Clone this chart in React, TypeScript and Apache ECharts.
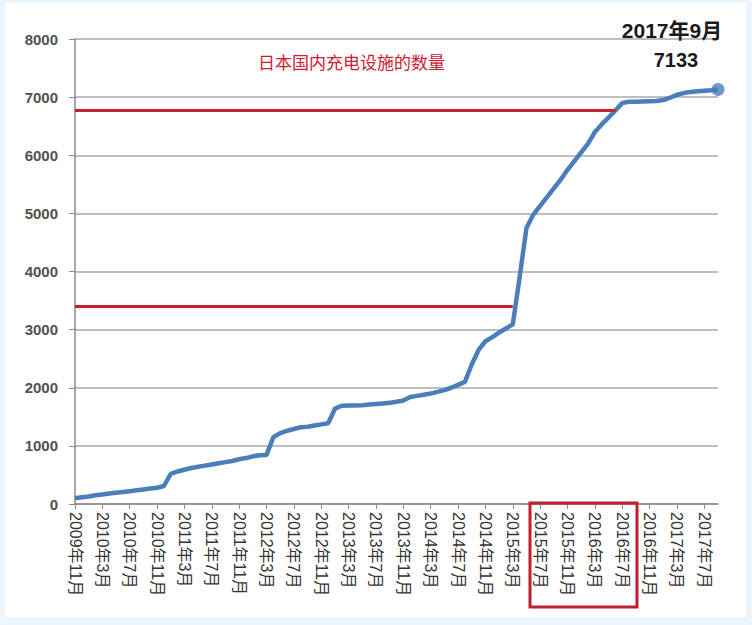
import React, { useEffect, useRef } from "react";
import * as echarts from "echarts";

const months: string[] = [
  "2009年11月", "2009年12月",
  "2010年1月", "2010年2月", "2010年3月", "2010年4月", "2010年5月", "2010年6月", "2010年7月", "2010年8月", "2010年9月", "2010年10月", "2010年11月", "2010年12月",
  "2011年1月", "2011年2月", "2011年3月", "2011年4月", "2011年5月", "2011年6月", "2011年7月", "2011年8月", "2011年9月", "2011年10月", "2011年11月", "2011年12月",
  "2012年1月", "2012年2月", "2012年3月", "2012年4月", "2012年5月", "2012年6月", "2012年7月", "2012年8月", "2012年9月", "2012年10月", "2012年11月", "2012年12月",
  "2013年1月", "2013年2月", "2013年3月", "2013年4月", "2013年5月", "2013年6月", "2013年7月", "2013年8月", "2013年9月", "2013年10月", "2013年11月", "2013年12月",
  "2014年1月", "2014年2月", "2014年3月", "2014年4月", "2014年5月", "2014年6月", "2014年7月", "2014年8月", "2014年9月", "2014年10月", "2014年11月", "2014年12月",
  "2015年1月", "2015年2月", "2015年3月", "2015年4月", "2015年5月", "2015年6月", "2015年7月", "2015年8月", "2015年9月", "2015年10月", "2015年11月", "2015年12月",
  "2016年1月", "2016年2月", "2016年3月", "2016年4月", "2016年5月", "2016年6月", "2016年7月", "2016年8月", "2016年9月", "2016年10月", "2016年11月", "2016年12月",
  "2017年1月", "2017年2月", "2017年3月", "2017年4月", "2017年5月", "2017年6月", "2017年7月", "2017年8月", "2017年9月",
];

const chargers: number[] = [
  100, 115,
  130, 150, 165, 180, 195, 205, 220, 235, 250, 265, 280, 310,
  520, 560, 590, 620, 640, 660, 680, 700, 720, 740, 770, 790,
  820, 840, 845, 1150, 1220, 1260, 1290, 1320, 1330, 1350, 1370, 1390,
  1640, 1690, 1695, 1695, 1700, 1710, 1720, 1730, 1740, 1760, 1780, 1840,
  1860, 1880, 1900, 1930, 1960, 2000, 2050, 2100, 2400, 2650, 2800, 2870,
  2950, 3020, 3090, 3900, 4750, 4980, 5130, 5280, 5430, 5580, 5750, 5900,
  6050, 6200, 6400, 6530, 6650, 6770, 6900, 6920, 6920, 6925, 6930, 6935,
  6950, 6990, 7040, 7070, 7090, 7100, 7110, 7120, 7133,
];

const yTicks: number[] = [0, 1000, 2000, 3000, 4000, 5000, 6000, 7000, 8000];

// reference lines: [value, end category]
const refLevels: number[] = [6770, 3410];
const refEnds: string[] = ["2016年6月", "2015年3月"];

const titleText = "日本国内充电设施的数量";
const latestLabel = "2017年9月";
const latestValue = "7133";

export default function App() {
  const ref = useRef<HTMLDivElement>(null);
  useEffect(() => {
    if (!ref.current) return;
    const chart = echarts.init(ref.current, undefined, { renderer: "svg" });
    const font = '"Liberation Sans", "Noto Sans CJK SC", sans-serif';
    const last = months.length - 1;
    chart.setOption({
      animation: false,
      backgroundColor: "#ecf4fc",
      textStyle: { fontFamily: font },
      grid: { left: 75, right: 34, top: 39, bottom: 121, containLabel: false },
      graphic: [
        { type: "rect", z: -10, silent: true, shape: { x: 5, y: 3, width: 741, height: 614 }, style: { fill: "#ffffff" } },
        {
          type: "text", x: 258, y: 63, z: 10,
          style: { text: titleText, fill: "#cc2030", fontSize: 17, fontFamily: font, align: "left", verticalAlign: "middle" },
        },
        {
          type: "text", x: 672, y: 30, z: 10,
          style: { text: latestLabel, fill: "#1a1a1a", fontSize: 21, fontWeight: "bold", fontFamily: font, align: "center", verticalAlign: "middle" },
        },
        {
          type: "text", x: 676, y: 60, z: 10,
          style: { text: latestValue, fill: "#1a1a1a", fontSize: 20, fontWeight: "bold", fontFamily: font, align: "center", verticalAlign: "middle" },
        },
        {
          type: "rect", z: 10, silent: true,
          shape: { x: 530, y: 503, width: 107, height: 104 },
          style: { fill: "none", stroke: "#c21f2d", lineWidth: 3 },
        },
      ],
      xAxis: {
        type: "category",
        data: months,
        boundaryGap: false,
        axisLine: { lineStyle: { color: "#8a8a8a", width: 1.5 } },
        axisTick: { show: true, interval: 3, length: 5, lineStyle: { color: "#8a8a8a" } },
        axisLabel: {
          interval: 3, rotate: -90, margin: 8, fontSize: 16, color: "#333",
          fontFamily: font,
        },
        splitLine: { show: false },
      },
      yAxis: {
        type: "value",
        min: yTicks[0],
        max: yTicks[yTicks.length - 1],
        interval: 1000,
        axisLine: { show: true, lineStyle: { color: "#8a8a8a", width: 1.5 } },
        axisTick: { show: true, length: 6, lineStyle: { color: "#8a8a8a" } },
        axisLabel: {
          fontSize: 15, fontWeight: "bold", color: "#505050", margin: 17, fontFamily: font,
          formatter: (v: number) => String(v),
        },
        splitLine: { show: true, lineStyle: { color: "#a8a8a8", width: 1.5 } },
      },
      series: [
        {
          type: "line",
          data: chargers,
          showSymbol: false,
          symbol: "none",
          lineStyle: { color: "#4a7ebb", width: 4.5 },
          itemStyle: { color: "#4a7ebb" },
          z: 3,
          markLine: {
            silent: true,
            symbol: ["none", "none"],
            label: { show: false },
            lineStyle: { color: "#c8202e", width: 3, type: "solid" },
            data: refLevels.map((v, i) => [
              { coord: [months[0], v] },
              { coord: [refEnds[i], v] },
            ]),
          },
        },
        {
          type: "scatter",
          data: chargers.map((v, i) => (i === last ? v : null)),
          symbol: "circle",
          symbolSize: 13,
          itemStyle: { color: "#4a7ebb" },
          z: 4,
        },
      ],
    });
    return () => chart.dispose();
  }, []);
  return (
    <div
      ref={ref}
      style={{ position: "fixed", left: 0, top: 0, width: 752, height: 625 }}
    />
  );
}
